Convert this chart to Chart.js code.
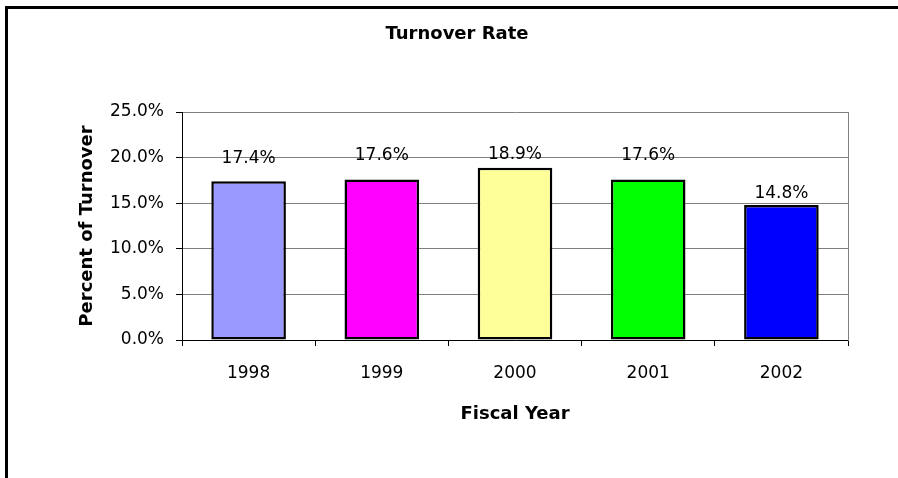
<!DOCTYPE html>
<html>
<head>
<meta charset="utf-8">
<script src="https://cdn.jsdelivr.net/npm/chart.js@4"></script>
<style>
html,body{margin:0;padding:0;background:#fff;overflow:hidden}
#wrap{position:relative;width:898px;height:478px}
#frame{position:absolute;left:5px;top:6px;width:1000px;height:600px;border:3px solid #000}
canvas{position:absolute;left:0;top:0}
</style>
</head>
<body>
<div id="wrap">
<div id="frame"></div>
<canvas id="turnoverChart" width="898" height="478"></canvas>
</div>
<script>

// DATA

const years = ['1998','1999','2000','2001','2002']
const turnover = [17.4, 17.6, 18.9, 17.6, 14.8]
const yTicks = [0, 5, 10, 15, 20, 25]

const barColors = ['#9999FF','#FF00FF','#FFFF99','#00FF00','#0000FF']

// distance from bar top to label baseline (labels were nudged in the original)
const labelLift = [18, 19, 9, 19, 7]

const FONT = "'DejaVu Sans', sans-serif"


// LABELS ABOVE BARS + TITLE

const extras = {
id:'extras',
afterDatasetsDraw(chart){
const ctx = chart.ctx
const meta = chart.getDatasetMeta(0)
ctx.save()
ctx.fillStyle = '#000'
ctx.font = '17px ' + FONT
ctx.textAlign = 'center'
ctx.textBaseline = 'alphabetic'
meta.data.forEach((bar,i)=>{
ctx.fillText(turnover[i].toFixed(1) + '%', bar.x, bar.y - labelLift[i])
})
ctx.font = 'bold 18px ' + FONT
ctx.textBaseline = 'middle'
ctx.fillText('Turnover Rate', 457, 34)
ctx.restore()
}
}


// CHART

const ctx = document.getElementById('turnoverChart')

const turnoverChart = new Chart(ctx,{

type:'bar',

data:{
labels:years,
datasets:[{
label:'Turnover',
data:turnover,
backgroundColor:barColors,
borderColor:'#000',
borderWidth:2.5,
borderSkipped:false,
barPercentage:0.56,
categoryPercentage:1
}]
},

options:{
responsive:false,
animation:false,
devicePixelRatio:1,
layout:{padding:{left:0,right:0,top:112,bottom:0}},
plugins:{
legend:{display:false},
title:{display:false},
tooltip:{enabled:false}
},
scales:{
x:{
grid:{
offset:true,
drawOnChartArea:false,
tickLength:6,
tickColor:'#000'
},
border:{color:'#000',width:1},
ticks:{
color:'#000',
font:{family:FONT,size:17},
padding:17,
maxRotation:0
},
title:{
display:true,
text:'Fiscal Year',
color:'#000',
font:{family:FONT,size:18,weight:'bold'},
padding:{top:0,bottom:53}
},
afterFit:s=>{ s.height = 138 }
},
y:{
min:0,
max:25,
afterBuildTicks:s=>{ s.ticks = yTicks.map(v=>({value:v})) },
grid:{
color:'#808080',
tickLength:6,
tickColor:'#000'
},
border:{color:'#000',width:1},
ticks:{
color:'#000',
font:{family:FONT,size:17},
padding:12,
callback:v=>v.toFixed(1) + '%'
},
title:{
display:true,
text:'Percent of Turnover',
color:'#000',
font:{family:FONT,size:18,weight:'bold'},
padding:{top:77,bottom:0}
},
afterFit:s=>{ s.width = 182 }
},
y2:{
position:'right',
min:0,
max:25,
grid:{drawOnChartArea:false,drawTicks:false},
border:{color:'#808080',width:1},
ticks:{display:false},
afterFit:s=>{ s.width = 50 }
}
}
},

plugins:[extras]

})

</script>
</body>
</html>
